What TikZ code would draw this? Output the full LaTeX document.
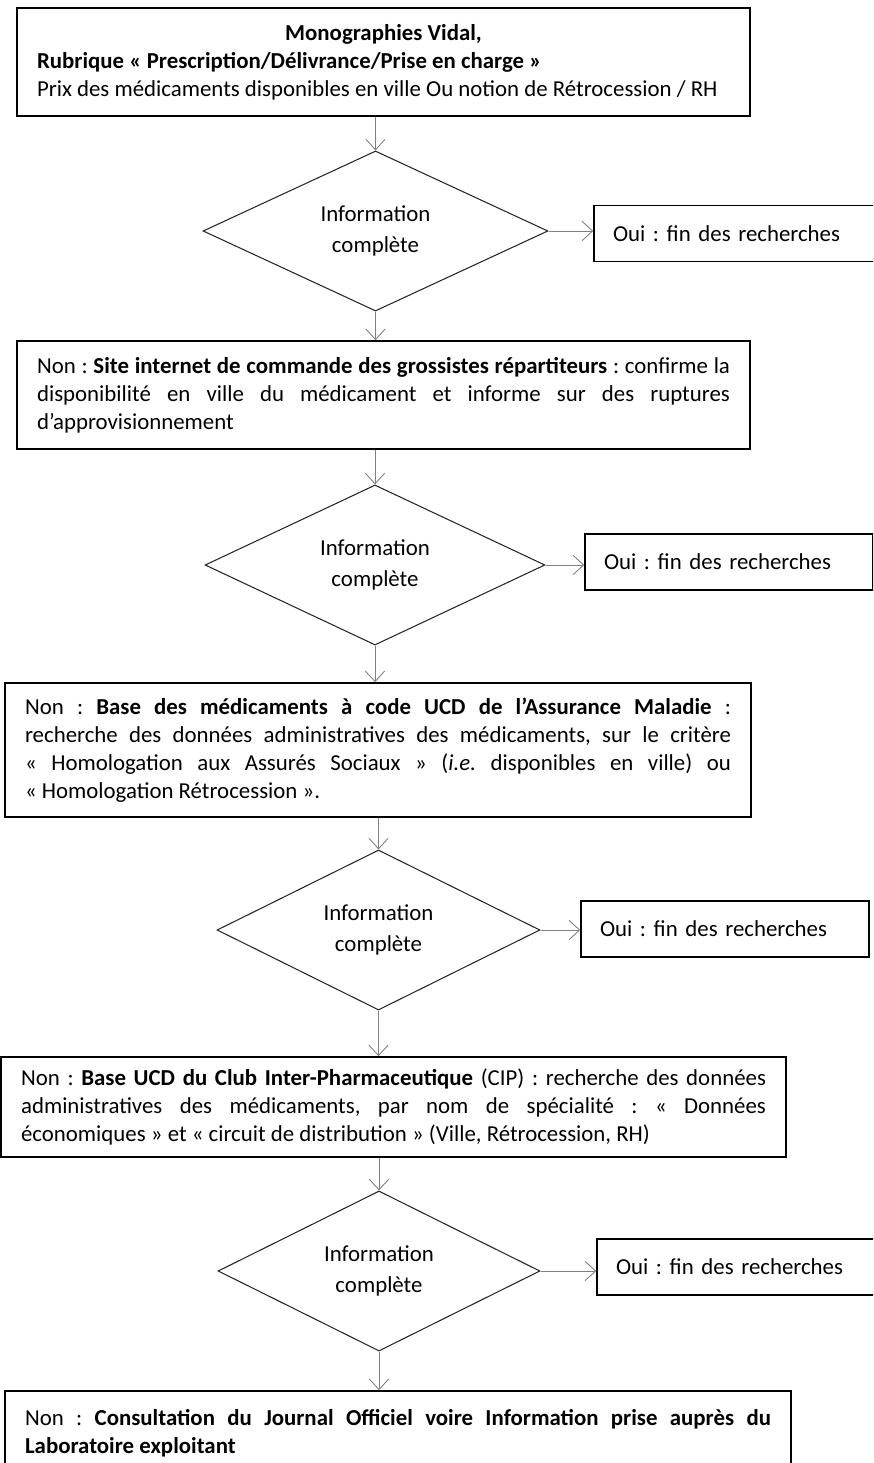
\documentclass[tikz,border=0pt]{standalone}
\usepackage{fontspec}
\setmainfont{Carlito}
\usepackage{tikz}
\usetikzlibrary{shapes.geometric}
\usetikzlibrary{arrows.meta}
\frenchspacing
\tikzstyle{stage} = [rectangle,draw=black,line width=0.9pt,align=justify,
inner xsep=0.4cm, inner ysep=0pt, font=\fontsize{13}{15.9}\selectfont]
\tikzstyle{test} = [diamond,draw=black!85,line width=0.6pt,align=center,
inner sep=0pt, font=\fontsize{13}{17.5}\selectfont]
\tikzstyle{stop} = [rectangle,draw=black,line width=0.9pt,align=left,
text width=5cm, inner xsep=0.38cm, minimum height=1.12cm,
font=\fontsize{13}{15.9}\selectfont]
\tikzstyle{flow} = [draw=gray,line width=0.5pt,
-{Straight Barb[length=6pt,width=11pt]}]

\begin{document}
\begin{tikzpicture}[x=0.02cm,y=-0.02cm]
  \clip (0,0) rectangle (873,1463);
  % sources, from top to bottom
  \node[stage,text width=13.86cm,minimum height=2.16cm](vidal) at (383.5,62) {%
    {\centering\textbf{Monographies Vidal,}\par}
    \textbf{Rubrique «~Prescription/Délivrance/Prise en charge~»}\\
    Prix des médicaments disponibles en ville Ou notion de Rétrocession / RH};
  \node[stage,text width=13.86cm,minimum height=2.16cm](grossiste) at (383.5,395) {%
    Non~: \textbf{Site internet de commande des grossistes répartiteurs}~: confirme la\linebreak
    disponibilité en ville du médicament et informe sur des ruptures\linebreak
    d’approvisionnement};
  \node[stage,text width=14.12cm,minimum height=2.68cm](ameli) at (378,750) {%
    Non~: \textbf{Base des médicaments à code UCD de l’Assurance Maladie} :\linebreak
    recherche des données administratives des médicaments, sur le critère\linebreak
    «~Homologation aux Assurés Sociaux~» (\textit{i.e.} disponibles en ville) ou\linebreak
    «~Homologation Rétrocession~».};
  \node[stage,text width=14.9cm,minimum height=2.0cm](cip) at (393.5,1107) {%
    Non~: \textbf{Base UCD du Club Inter-Pharmaceutique} (CIP) : recherche des données\linebreak
    administratives des médicaments, par nom de spécialité~: «~Données\linebreak
    économiques~» et «~circuit de distribution~» (Ville, Rétrocession, RH)};
  \node[stage,text width=14.92cm,minimum height=1.7cm](jo) at (398,1433.5) {%
    Non~: \textbf{Consultation du Journal Officiel voire Information prise auprès du\linebreak
    Laboratoire exploitant}};
  % tests
  \node[test,minimum width=6.9cm,minimum height=3.08cm](q1) at (375.5,231) {Information\\complète};
  \node[test,minimum width=6.8cm,minimum height=3.08cm](q2) at (375,565) {Information\\complète};
  \node[test,minimum width=6.46cm,minimum height=3.12cm](q3) at (378.5,930) {Information\\complète};
  \node[test,minimum width=6.44cm,minimum height=3.16cm](q4) at (379,1271) {Information\\complète};
  % answers
  \node[stop](oui1) at (738,233.5) {Oui~: fin des recherches};
  \node[stop](oui2) at (729,562) {Oui~: fin des recherches};
  \node[stop](oui3) at (725,929) {Oui~: fin des recherches};
  \node[stop](oui4) at (741,1267) {Oui~: fin des recherches};
  % links
  \foreach \b/\q/\n in {vidal/q1/grossiste,grossiste/q2/ameli,ameli/q3/cip,cip/q4/jo} {
    \draw[flow] (\b.south -| \q.north) -- (\q.north);
    \draw[flow] (\q.south) -- (\q.south |- \n.north);
  }
  \foreach \q/\o in {q1/oui1,q2/oui2,q3/oui3,q4/oui4}
    \draw[flow] (\q.east) -- (\q.east -| \o.west);
\end{tikzpicture}
\end{document}
